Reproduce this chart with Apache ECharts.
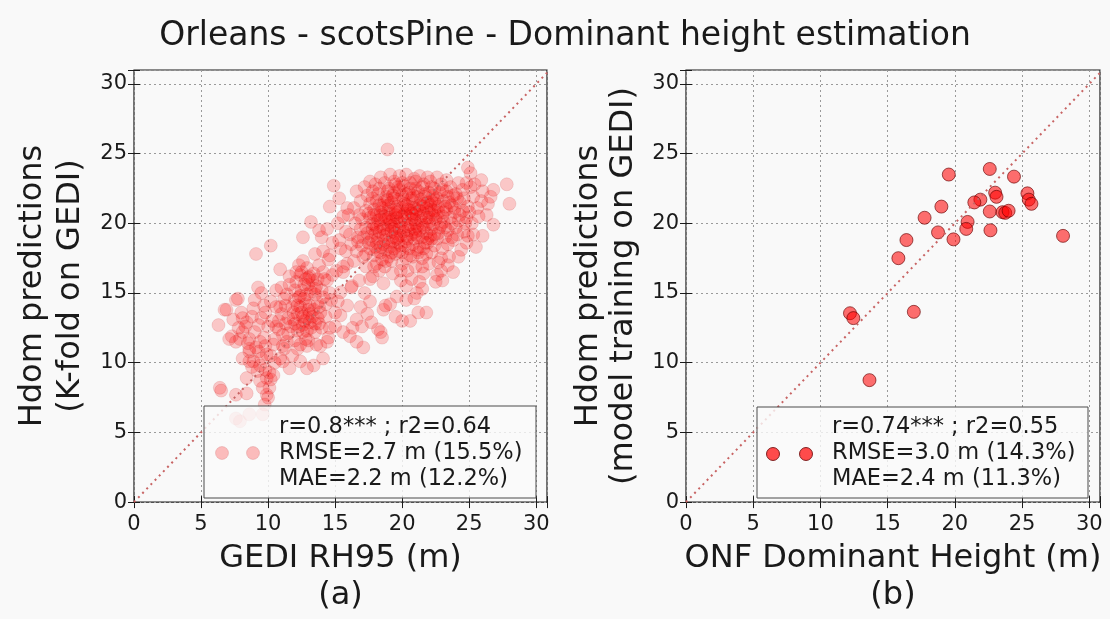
<!DOCTYPE html>
<html>
<head>
<meta charset="utf-8">
<title>Orleans - scotsPine - Dominant height estimation</title>
<script src="https://cdn.jsdelivr.net/npm/echarts@6/dist/echarts.min.js"></script>
<style>
  html, body { margin: 0; padding: 0; background: #f9f9f9; }
  #chart { width: 1110px; height: 619px; }
</style>
</head>
<body>
<div id="chart"></div>
<script>
// axis ranges (both panels)
const xMax = 30.8;
const yMax = 31;
const tickStep = 5;
const diagonal = [0, 31];

// (a) K-fold predictions vs GEDI RH95, [rh95, hdomPred]
const gediPoints = [
  // main cluster
  [18.4,23.3],[19.1,23.5],[19.8,23.4],[20.3,23.5],[20.9,23.2],[21.3,23.4],[21.9,23.3],[22.6,23.3],[23.3,23.1],[17.6,23.0],[24.2,22.9],
  [17.2,22.6],[18.0,22.8],[18.7,22.9],[19.5,22.8],[20.1,22.7],[20.6,22.9],[21.6,22.8],[22.2,22.6],[22.9,22.8],[23.6,22.6],[24.5,22.4],[25.1,22.6],[19.0,22.5],[21.0,22.5],
  [17.4,22.0],[18.2,22.1],[18.8,21.9],[19.4,22.2],[20.0,22.0],[20.5,22.2],[21.1,21.9],[21.7,22.1],[22.3,22.0],[22.8,22.2],[23.4,21.9],[24.0,22.1],[24.6,21.8],[25.3,21.9],[16.9,21.6],[25.9,21.6],
  [17.6,21.4],[18.1,21.6],[18.6,21.3],[19.2,21.5],[19.7,21.7],[20.2,21.4],[20.8,21.6],[21.3,21.3],[21.9,21.5],[22.5,21.4],[23.1,21.6],[23.7,21.3],[24.3,21.5],[24.9,21.2],[25.6,21.1],[16.4,21.1],[15.9,21.1],
  [17.3,20.9],[17.9,21.0],[18.4,20.8],[19.0,21.0],[19.5,20.8],[20.0,21.1],[20.6,20.9],[21.1,21.0],[21.6,20.7],[22.2,21.0],[22.7,20.8],[23.3,21.0],[23.9,20.8],[24.5,20.9],[18.7,20.5],[20.4,20.5],[22.0,20.4],
  [17.0,20.3],[17.6,20.4],[18.2,20.2],[19.3,20.3],[19.8,20.1],[20.9,20.3],[21.4,20.2],[22.5,20.3],[23.1,20.1],[23.6,20.4],[24.2,20.2],[24.8,20.4],[16.5,20.0],[18.9,19.9],[21.8,19.9],
  [17.3,19.7],[17.8,19.6],[18.4,19.8],[19.4,19.6],[20.0,19.7],[20.5,19.5],[21.1,19.8],[22.2,19.6],[22.8,19.7],[23.4,19.5],[24.0,19.7],[24.6,19.4],[16.1,19.2],
  [17.1,19.0],[17.7,19.1],[18.2,18.9],[18.8,19.2],[19.3,19.0],[19.9,19.1],[20.4,18.9],[21.0,19.2],[21.5,19.0],[22.1,19.1],[22.6,18.9],[23.2,19.0],[23.8,18.8],
  [17.0,18.4],[17.5,18.6],[18.0,18.3],[18.6,18.5],[19.1,18.3],[19.7,18.6],[20.2,18.4],[20.8,18.5],[21.3,18.3],[21.9,18.6],[22.4,18.4],[23.0,18.2],[24.4,18.1],[16.6,18.0],
  [17.3,17.8],[17.9,17.7],[18.4,17.9],[19.0,17.6],[19.5,17.8],[20.6,17.7],[21.2,17.9],[21.8,17.8],[22.9,17.5],[17.1,17.6],[23.5,17.6],[15.9,17.1],[15.6,16.9],
  [18.1,17.1],[18.7,16.9],[20.0,17.1],[20.4,16.6],[21.0,16.9],[22.7,17.2],[17.3,16.9],[22.6,16.3],[23.8,16.5],[21.6,16.4],[20.7,16.0],[17.8,16.2],
  [18.6,15.7],[20.3,15.5],[21.1,15.0],[19.6,14.75],[20.3,14.5],[19.9,15.9],[21.3,15.8],[20.9,14.6],[19.1,14.2],[20.6,13.0],[21.8,13.6],[19.5,13.3],
  [18.3,19.4],[18.9,19.5],[19.5,19.3],[20.1,19.4],[20.7,19.2],[21.3,19.5],[21.8,19.3],[18.5,20.6],[19.1,20.7],[19.6,20.4],[20.2,20.7],[20.8,20.6],[21.4,20.5],[22.0,20.8],
  [18.2,18.0],[18.8,18.1],[19.4,18.2],[20.0,17.9],[19.0,21.3],[20.5,21.2],[21.5,21.2],[22.4,21.7],[19.9,20.0],[20.6,19.9],[19.2,19.8],[18.0,19.3],[17.7,18.8],[21.9,18.9],[22.3,20.6],[23.0,20.5],
  [17.8,20.0],[18.1,20.6],[18.5,21.1],[18.9,21.7],[19.3,22.0],[19.8,22.4],[20.3,22.1],[20.7,21.8],[21.2,22.3],[21.7,21.9],[22.1,21.3],[22.6,21.8],[23.0,22.4],[23.5,21.5],
  [23.9,21.1],[24.3,20.6],[23.7,20.0],[23.2,19.7],[22.7,19.3],[22.2,18.9],[21.7,18.6],[21.1,18.1],[20.5,18.2],[19.9,18.4],[19.3,18.7],[18.7,18.8],[18.1,18.6],[17.6,18.2],
  [17.4,19.3],[17.9,19.9],[18.6,19.6],[19.1,20.1],[19.7,19.0],[20.3,19.1],[20.9,19.6],[21.5,19.9],[22.0,20.1],[22.6,20.5],[21.0,20.0],[20.2,20.3],[19.5,20.6],[18.8,20.3],
  [18.3,21.3],[17.8,21.8],[19.6,21.2],[20.4,21.0],[21.0,20.7],[21.8,21.1],[22.4,20.9],[23.1,20.8],[19.8,18.0],[20.8,17.6],[21.5,17.5],[19.2,17.3],[18.5,17.4],[22.2,17.9],
  [23.4,18.5],[24.1,19.2],[24.7,20.0],[25.0,20.8],[24.1,21.8],[23.3,22.3],[22.4,22.5],[21.5,22.6],[20.6,22.5],[19.7,22.6],[18.9,22.3],[18.3,22.5],[17.8,22.3],[20.0,20.5],
  [19.4,19.9],[20.7,20.3],[21.3,20.9],[21.8,20.4],[18.1,19.7],[17.5,20.7],[16.8,20.6],[16.9,19.6],[16.7,18.7],[19.9,16.6],[19.3,16.4],[21.5,16.9],[22.0,17.1],[18.3,16.6],
  [20.0,22.9],[21.0,23.0],[22.1,23.0],[19.4,23.0],[23.8,22.0],[24.8,22.9],[25.4,22.8],[25.7,20.5],[25.2,20.0],[24.9,19.1],[26.4,21.4],[25.9,23.1],[26.6,21.9],
  [22.9,16.6],[23.4,17.0],[24.2,17.6],[24.8,18.6],[23.0,15.9],[21.5,15.3],[22.5,15.8],
  [18.6,19.1],[19.2,19.4],[19.8,19.6],[20.4,19.8],[21.0,19.4],[21.6,19.7],[22.3,19.9],[18.4,20.3],[19.0,20.4],[19.7,20.8],[20.3,21.3],[20.9,21.1],[21.6,21.4],[22.2,21.6],
  [18.7,21.6],[19.4,21.8],[20.1,21.7],[20.8,22.0],[21.4,21.7],[22.0,22.2],[22.7,21.2],[23.2,21.2],[18.4,18.3],[19.0,18.6],[19.6,18.9],[20.3,18.7],[20.9,18.9],[21.6,18.2],
  [19.2,17.9],[20.3,17.5],[18.8,17.3],[19.5,21.0],[20.7,20.7],[21.2,19.0],[22.4,19.2],[17.9,20.6],[23.7,19.0],[22.9,19.9],
  // outliers around the main cluster
  [18.9,25.3],[24.9,24.0],[25.1,23.6],[27.8,22.8],[28.0,21.4],[26.8,22.4],[26.0,22.3],[26.3,20.6],[26.8,19.9],[26.0,19.1],[25.5,18.3],[25.3,19.2],[16.6,22.3],
  // bridge between clusters
  [14.9,22.7],[15.3,21.8],[14.6,21.2],[15.6,20.5],[16.0,20.6],[15.2,20.0],[14.4,19.6],[15.8,19.4],[16.7,19.0],[14.8,18.6],[15.4,18.2],[16.2,18.5],[14.1,18.0],[13.8,19.5],[13.2,20.1],[12.6,19.0],
  [14.5,17.4],[16.4,17.3],[15.1,16.6],[16.8,15.9],[16.2,15.4],[17.2,15.0],[17.6,14.4],[16.9,14.0],[17.4,13.5],[16.6,13.1],[17.0,12.6],[16.3,12.5],[17.7,12.9],[18.2,12.4],[18.5,11.8],
  [16.6,11.5],[17.1,11.1],[16.1,11.9],[15.6,12.2],[18.6,13.8],[20.0,13.0],[21.2,13.6],[17.6,16.0],[17.9,16.9],[15.6,16.5],[15.9,14.1],[15.4,13.4],[16.25,15.5],[15.4,15.05],[18.75,14.1],[18.4,12.2],
  // second cluster
  [12.0,14.5],[12.5,15.2],[13.0,15.6],[13.5,14.9],[14.0,15.2],[12.2,13.5],[12.8,14.2],[13.4,13.8],[13.8,12.8],[12.6,12.2],[13.2,12.5],[12.0,12.8],[11.5,13.2],[11.8,14.0],
  [14.3,14.2],[14.6,15.0],[13.7,16.0],[12.9,16.8],[12.3,17.0],[14.8,16.3],[11.2,14.6],[11.0,13.5],[10.6,12.6],[11.4,11.5],[12.2,11.0],[13.0,11.6],[13.9,11.2],[14.5,11.8],
  [15.0,12.6],[15.2,14.4],[12.7,13.0],[13.3,13.3],[12.4,14.0],[13.6,15.5],[12.1,15.8],[12.4,16.3],[13.1,16.2],[14.4,15.9],[14.1,16.5],[12.4,14.8],[13.1,14.1],[12.6,12.7],
  [12.9,13.2],[11.9,13.6],[13.9,13.6],[14.6,12.5],[13.6,11.3],[12.4,11.3],[11.1,12.0],[11.6,16.2],[11.0,15.4],[10.6,15.2],[10.9,16.7],
  [12.3,14.7],[12.7,15.6],[13.2,15.1],[13.7,14.3],[14.1,14.7],[13.4,16.4],[12.8,16.0],[12.1,16.5],[11.6,15.6],[11.3,14.1],[11.7,12.6],[12.2,12.3],[12.8,11.7],[13.5,12.2],
  [14.0,12.5],[14.3,13.3],[13.0,13.8],[12.5,13.6],[11.9,13.1],[11.5,12.1],[12.0,11.6],[13.1,12.9],[13.7,13.2],[12.7,14.6],[13.3,15.9],[14.2,16.0],[14.7,14.5],[15.0,13.6],
  [11.4,14.9],[10.9,14.0],[10.8,13.0],[11.2,11.0],[10.5,11.7],[12.6,17.3],[13.8,17.0],[14.6,17.7],[13.5,17.8],[15.3,18.8],[14.0,19.0],[15.8,18.0],
  [12.5,16.5],[13.0,16.1],[13.5,15.3],[12.9,14.9],[12.2,14.1],[13.1,13.5],[12.6,13.3],[13.5,12.8],[12.3,12.6],[12.9,12.3],[13.8,14.0],[12.0,15.2],
  // lower left tail
  [9.1,17.8],[10.2,18.4],[9.25,15.4],[7.6,14.5],[6.9,13.8],[6.3,12.7],[7.3,11.9],[8.4,12.9],[8.0,13.6],[8.9,13.9],[8.1,13.2],[9.5,13.2],[10.0,12.6],[9.0,12.2],
  [8.6,11.7],[9.7,11.8],[10.4,11.3],[9.9,10.6],[9.4,11.5],[8.6,10.8],[8.1,12.2],[8.6,10.1],[9.2,9.4],[10.5,10.0],[9.9,8.9],[10.1,8.2],[8.4,8.9],[11.1,10.1],
  [11.6,9.6],[12.9,9.6],[7.9,11.7],[8.6,11.0],[8.9,10.1],[9.4,9.8],[8.1,10.3],[7.6,11.5],[10.9,10.3],[12.4,10.1],[13.4,9.8],[14.1,10.3],[11.1,11.2],[12.9,11.2],
  [14.4,11.5],[7.1,11.7],[6.75,13.8],[7.75,14.6],[6.4,8.2],[7.6,7.7],[8.4,7.8],[9.9,7.7],[9.75,7.0],[9.6,8.2],[10.2,8.8],[10.0,7.5],[9.3,10.8],[10.8,12.4],
  [11.3,12.8],[10.2,14.4],[9.7,14.1],[9.5,15.0],[6.5,8.0],[7.6,6.0],[9.6,6.3],[8.6,6.3],[7.9,5.8],
  [8.3,12.6],[8.8,13.3],[9.3,12.7],[9.8,13.6],[10.3,13.0],[8.5,11.4],[9.1,11.1],[9.8,11.2],[10.2,10.5],[9.5,10.3],[8.8,9.7],[9.4,8.7],[10.1,9.3],[7.4,13.1],
  [7.8,12.5],[9.0,14.5],[10.6,14.0],[11.8,10.5],[9.8,9.5],[10.4,9.1]
];

// (b) model predictions vs ONF dominant height, [onfHdom, hdomPred]
const onfPoints = [
  [22.6,23.9],[19.55,23.5],[24.4,23.35],[25.4,22.15],[23.0,22.2],[23.1,21.9],[21.9,21.7],[21.45,21.5],
  [19.0,21.2],[25.5,21.7],[25.7,21.4],[22.6,20.85],[23.55,20.8],[23.75,20.75],[24.0,20.9],[17.75,20.4],
  [20.95,20.1],[20.85,19.6],[22.65,19.5],[18.75,19.35],[19.9,18.85],[16.4,18.8],[28.05,19.1],[15.8,17.5],
  [12.2,13.55],[12.45,13.2],[16.95,13.65],[13.65,8.75]
];

const font = 'DejaVu Sans';
const ink = '#1a1a1a';

function makeAxes(gridIndex, xName, yName, yLineHeight, yGap) {
  const tick = { show: true, inside: true, length: 6, lineStyle: { color: ink, width: 1 } };
  const hideOffTicks = v => (v % tickStep === 0 ? String(v) : '');
  const split = { show: true, lineStyle: { color: '#9a9a9a', type: [2, 3], width: 1 } };
  const xAxes = [
    {
      gridIndex, type: 'value', min: 0, max: xMax, interval: tickStep, position: 'bottom',
      axisLine: { show: false }, axisTick: tick, splitLine: split,
      axisLabel: { fontFamily: font, fontSize: 21, color: ink, margin: 12, formatter: hideOffTicks },
      name: xName, nameLocation: 'middle', nameGap: 31,
      nameTextStyle: { fontFamily: font, fontSize: 32, color: ink, lineHeight: 37, verticalAlign: 'top' }
    },
    {
      gridIndex, type: 'value', min: 0, max: xMax, interval: tickStep, position: 'top',
      axisLine: { show: false }, axisTick: tick, axisLabel: { show: false }, splitLine: { show: false }
    }
  ];
  const yAxes = [
    {
      gridIndex, type: 'value', min: 0, max: yMax, interval: tickStep, position: 'left',
      axisLine: { show: false }, axisTick: tick, splitLine: split,
      axisLabel: { fontFamily: font, fontSize: 21, color: ink, margin: 7, formatter: hideOffTicks },
      name: yName, nameLocation: 'middle', nameRotate: 90, nameGap: yGap,
      nameTextStyle: { fontFamily: font, fontSize: 32, color: ink, lineHeight: yLineHeight }
    },
    {
      gridIndex, type: 'value', min: 0, max: yMax, interval: tickStep, position: 'right',
      axisLine: { show: false }, axisTick: tick, axisLabel: { show: false }, splitLine: { show: false }
    }
  ];
  return { xAxes, yAxes };
}

const left = makeAxes(0, 'GEDI RH95 (m)\n(a)', 'Hdom predictions\n(K-fold on GEDI)', 38, 44);
const right = makeAxes(1, 'ONF Dominant Height (m)\n(b)', 'Hdom predictions\n(model training on GEDI)', 35, 45);

const faintFill = 'rgba(255,0,0,0.25)';
const faintEdge = 'rgba(170,0,0,0.15)';
const solidFill = 'rgba(255,0,0,0.7)';
const solidEdge = 'rgba(100,0,0,0.8)';

// legend boxes (matplotlib-style, drawn over the points)
function legendBox(x, y, w, h, markerX, markerY, markerFill, markerStroke, lines) {
  return [
    {
      type: 'rect', z: 100, shape: { x, y, width: w, height: h },
      style: { fill: 'rgba(250,250,250,0.8)', stroke: '#4a4a4a', lineWidth: 1 }
    },
    ...markerX.map(cx => ({
      type: 'circle', z: 101, shape: { cx, cy: markerY, r: 6.5 },
      style: { fill: markerFill, stroke: markerStroke, lineWidth: 1 }
    })),
    {
      type: 'text', z: 101, x: markerX[1] + 26, y: y + h / 2 + 1,
      style: {
        text: lines.join('\n'), fill: ink, font: '22.5px ' + font,
        lineHeight: 26, textAlign: 'left', textVerticalAlign: 'middle'
      }
    }
  ];
}

const chart = echarts.init(document.getElementById('chart'));
chart.setOption({
  animation: false,
  backgroundColor: '#f9f9f9',
  grid: [
    { left: 134, top: 70, width: 413, height: 440, show: true, borderColor: ink, borderWidth: 1.2, backgroundColor: 'transparent' },
    { left: 686, top: 70, width: 414, height: 440, show: true, borderColor: ink, borderWidth: 1.2, backgroundColor: 'transparent' }
  ],
  xAxis: [...left.xAxes, ...right.xAxes],
  yAxis: [...left.yAxes, ...right.yAxes],
  graphic: [
    {
      type: 'text', x: 565, y: 36, z: 100,
      style: {
        text: 'Orleans - scotsPine - Dominant height estimation', fill: ink,
        font: '33px ' + font, textAlign: 'center', textVerticalAlign: 'middle'
      }
    },
    ...legendBox(204, 406, 332, 92, [222, 253], 453, faintFill, faintEdge,
      ['r=0.8*** ; r2=0.64', 'RMSE=2.7 m (15.5%)', 'MAE=2.2 m (12.2%)']),
    ...legendBox(757, 407, 331, 91, [773, 806], 454, solidFill, solidEdge,
      ['r=0.74*** ; r2=0.55', 'RMSE=3.0 m (14.3%)', 'MAE=2.4 m (11.3%)'])
  ],
  series: [
    {
      type: 'line', xAxisIndex: 0, yAxisIndex: 0, data: diagonal.map(v => [v, v]),
      symbol: 'none', clip: true, silent: true,
      lineStyle: { color: '#c86464', width: 2, type: [2, 4] }, z: 3
    },
    {
      type: 'scatter', xAxisIndex: 0, yAxisIndex: 0, data: gediPoints, symbolSize: 13,
      itemStyle: { color: faintFill, borderColor: faintEdge, borderWidth: 1 }, z: 2
    },
    {
      type: 'line', xAxisIndex: 2, yAxisIndex: 2, data: diagonal.map(v => [v, v]),
      symbol: 'none', clip: true, silent: true,
      lineStyle: { color: '#c86464', width: 2, type: [2, 4] }, z: 3
    },
    {
      type: 'scatter', xAxisIndex: 2, yAxisIndex: 2, data: onfPoints, symbolSize: 13,
      itemStyle: { color: solidFill, borderColor: solidEdge, borderWidth: 1 }, z: 2
    }
  ]
});
</script>
</body>
</html>
